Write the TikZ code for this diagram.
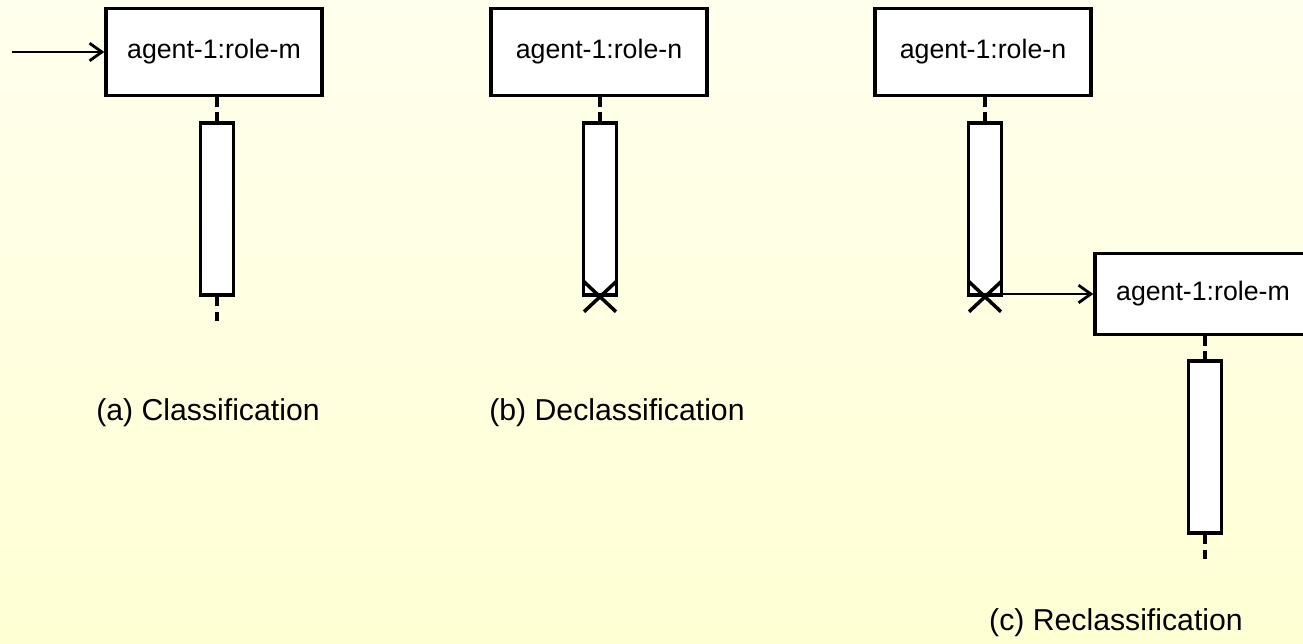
\documentclass[tikz,border=0pt]{standalone}
\usepackage{fontspec}
\setmainfont{Liberation Sans}
\usepackage{tikz}
\usetikzlibrary{positioning,calc,arrows.meta}

\begin{document}
\begin{tikzpicture}[x=0.02cm, y=-0.02cm,
    role/.style={draw, line width=2pt, fill=white, minimum width=4.32cm, minimum height=1.74cm, font=\fontsize{15.2}{17}\selectfont},
    bar/.style={draw, line width=2pt, fill=white, minimum width=0.66cm, minimum height=3.44cm, inner sep=0pt},
    lifeline/.style={line width=2.2pt, dash pattern=on 5.5pt off 3pt},
    msg/.style={line width=1.5pt, -{Straight Barb[length=7pt, width=10pt, line width=1.6pt]}},
    kill/.style={line width=2pt},
    caption/.style={font=\fontsize{17.2}{20}\selectfont}]
    % page and background
    \useasboundingbox (0,0) rectangle (1303,644);
    \shade[top color=yellow!7, bottom color=yellow!17] (0,0) rectangle (1303,644);

    % (a) classification
    \node [role] (roleA) at (214, 52) {agent-1:role-m};
    \node [bar] (barA) at (217, 209) {};
    \coordinate (startA) at (12, 52);
    \coordinate (endA) at (217, 322);
    \draw [msg] (startA) -- (roleA.west);
    \draw [lifeline] (roleA.south -| barA) -- (barA.north);
    \draw [lifeline] (barA.south) -- (endA);
    \node [caption] (capA) at (208, 413) {(a) Classification};

    % (b) declassification
    \node [role] (roleB) at (599, 52) {agent-1:role-n};
    \node [bar] (barB) at (600, 209) {};
    \draw [lifeline] (roleB.south -| barB) -- (barB.north);
    \draw [kill] ($(barB.south)+(-16,-15)$) -- ($(barB.south)+(16,15)$);
    \draw [kill] ($(barB.south)+(-16,15)$) -- ($(barB.south)+(16,-15)$);
    \node [caption] (capB) at (617, 413) {(b) Declassification};

    % (c) reclassification
    \node [role] (roleC) at (983, 52) {agent-1:role-n};
    \node [bar] (barC) at (985, 209) {};
    \draw [lifeline] (roleC.south -| barC) -- (barC.north);
    \draw [kill] ($(barC.south)+(-16,-15)$) -- ($(barC.south)+(16,15)$);
    \draw [kill] ($(barC.south)+(-16,15)$) -- ($(barC.south)+(16,-15)$);
    \node [role, minimum height=1.62cm] (roleM) at (1203, 294) {agent-1:role-m};
    \node [bar] (barM) at (1205, 447) {};
    \coordinate (endM) at (1205, 562);
    \draw [msg] (barC.south east |- roleM.west) -- (roleM.west); % role change
    \draw [lifeline] (roleM.south -| barM) -- (barM.north);
    \draw [lifeline] (barM.south) -- (endM);
    \node [caption] (capC) at (1116, 623) {(c) Reclassification};
\end{tikzpicture}
\end{document}
